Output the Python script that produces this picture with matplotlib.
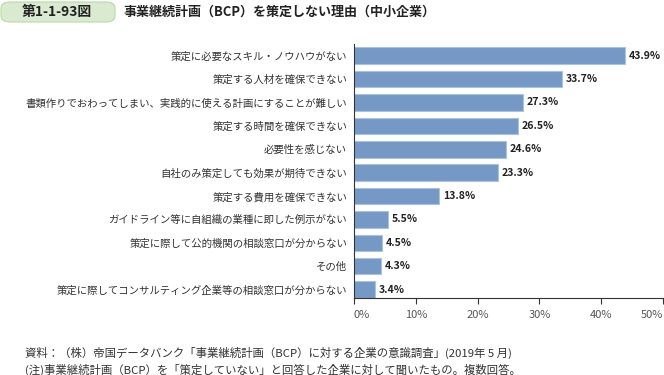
import matplotlib.pyplot as plt
from matplotlib.patches import FancyBboxPatch

plt.rcParams['font.family'] = ['Noto Sans CJK JP', 'DejaVu Sans']

categories = [
    "策定に必要なスキル・ノウハウがない",
    "策定する人材を確保できない",
    "書類作りでおわってしまい、実践的に使える計画にすることが難しい",
    "策定する時間を確保できない",
    "必要性を感じない",
    "自社のみ策定しても効果が期待できない",
    "策定する費用を確保できない",
    "ガイドライン等に自組織の業種に即した例示がない",
    "策定に際して公的機関の相談窓口が分からない",
    "その他",
    "策定に際してコンサルティング企業等の相談窓口が分からない",
]
values = [43.9, 33.7, 27.3, 26.5, 24.6, 23.3, 13.8, 5.5, 4.5, 4.3, 3.4]
xticks = [0, 10, 20, 30, 40, 50]

W, H = 664, 375
fig = plt.figure(figsize=(W / 100, H / 100), dpi=100)
ax = fig.add_axes([354 / W, 1 - 298 / H, (663 - 354) / W, (298 - 44) / H])

pos = range(len(categories))
ax.barh(pos, values, height=0.71, color='#7599c4', edgecolor='#a9c2de', linewidth=0.8)
for i, v in zip(pos, values):
    ax.text(v + 0.6, i, f"{v:.1f}%", va='center', ha='left', fontsize=7.6,
            fontweight='bold', color='#222222')

ax.set_ylim(10.36, -0.5)
ax.set_xlim(0, 50)
ax.set_yticks(list(pos))
ax.set_yticklabels(categories, fontsize=7.5, color='#333333')
ax.tick_params(axis='y', length=0, pad=5)
ax.set_xticks(xticks)
ax.set_xticklabels([f"{t}%" for t in xticks], fontsize=8, color='#555555')
ax.tick_params(axis='x', length=4, width=0.8, color='#333333', pad=5)
xl = ax.get_xticklabels()
xl[0].set_ha('left')
xl[-1].set_ha('right')
for s in ['top', 'right']:
    ax.spines[s].set_visible(False)
for s in ['left', 'bottom']:
    ax.spines[s].set_color('#333333')
    ax.spines[s].set_linewidth(0.8)

# header
pill = FancyBboxPatch((1 / W, 1 - 22 / H), 114 / W, 20 / H,
                      boxstyle="round,pad=0,rounding_size=0.015",
                      transform=fig.transFigure, facecolor='#d9ead0',
                      edgecolor='#b9d9a6', linewidth=0.8)
fig.patches.append(pill)
fig.text(57 / W, 1 - 12 / H, "第1-1-93図", ha='center', va='center',
         fontsize=10, fontweight='bold', color='#222222')
fig.text(123 / W, 1 - 12 / H, "事業継続計画（BCP）を策定しない理由（中小企業）",
         ha='left', va='center', fontsize=9.4, fontweight='bold', color='#222222')

fig.text(25 / W, 1 - 353 / H,
         "資料：（株）帝国データバンク「事業継続計画（BCP）に対する企業の意識調査」(2019年 5 月)",
         ha='left', va='center', fontsize=8.2, color='#333333')
fig.text(25 / W, 1 - 370 / H,
         "(注)事業継続計画（BCP）を「策定していない」と回答した企業に対して聞いたもの。複数回答。",
         ha='left', va='center', fontsize=8.2, color='#333333')

fig.savefig("out.png", dpi=100)
